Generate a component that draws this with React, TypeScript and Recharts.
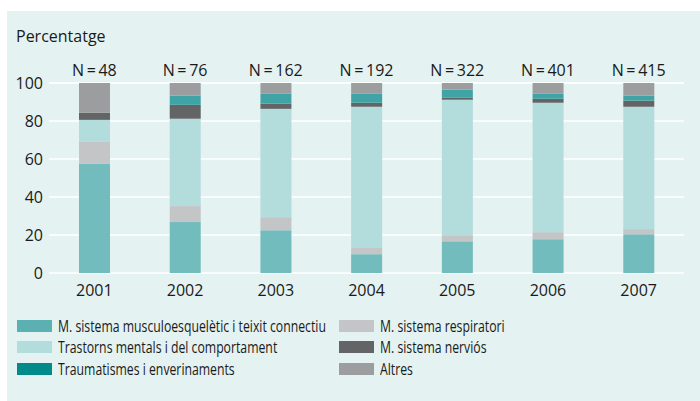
import { BarChart, Bar, XAxis, YAxis, CartesianGrid } from "recharts";

const YEARS = ["2001", "2002", "2003", "2004", "2005", "2006", "2007"];
const N_VALUES = [48, 76, 162, 192, 322, 401, 415];
const MUSCULO = [57.4, 26.8, 22.5, 9.9, 16.7, 17.8, 20.4];
const RESPIRATORI = [11.6, 8.4, 6.9, 3.3, 3.2, 3.7, 2.7];
const TRASTORNS = [11.6, 46.0, 57.0, 74.3, 71.3, 68.1, 64.4];
const NERVIOS = [3.7, 7.3, 2.7, 2.1, 1.0, 2.1, 3.2];
const TRAUMATISMES = [0, 4.8, 5.2, 4.7, 4.3, 2.6, 2.6];
const ALTRES = [15.7, 6.7, 5.7, 5.7, 3.5, 5.7, 6.7];
const Y_TICKS = [0, 20, 40, 60, 80, 100];

const FONT = "'Open Sans', sans-serif";
const TEXT = "#1a1a1a";

// stacking order, bottom to top
const SERIES = [
  { key: "musculo", name: "M. sistema musculoesquelètic i teixit connectiu", values: MUSCULO, fill: "#72bcbd", swatch: "#5bb0b2" },
  { key: "respiratori", name: "M. sistema respiratori", values: RESPIRATORI, fill: "#c4c5c7", swatch: "#c4c5c7" },
  { key: "trastorns", name: "Trastorns mentals i del comportament", values: TRASTORNS, fill: "#b3dcdc", swatch: "#b3dcdc" },
  { key: "nervios", name: "M. sistema nerviós", values: NERVIOS, fill: "#636466", swatch: "#636466" },
  { key: "traumatismes", name: "Traumatismes i enverinaments", values: TRAUMATISMES, fill: "#40a4a6", swatch: "#008b8a" },
  { key: "altres", name: "Altres", values: ALTRES, fill: "#9c9d9f", swatch: "#9c9d9f" },
];

const data = YEARS.map((year, i) => {
  const row: Record<string, string | number> = { year, n: "N\u2009=\u2009" + N_VALUES[i] };
  SERIES.forEach((s) => (row[s.key] = s.values[i]));
  return row;
});

const LEGEND_LEFT = ["musculo", "trastorns", "traumatismes"];
const LEGEND_RIGHT = ["respiratori", "nervios", "altres"];

function LegendColumn({ keys, left }: { keys: string[]; left: number }) {
  return (
    <div style={{ position: "absolute", left, top: 315 }}>
      {keys.map((k) => {
        const s = SERIES.find((x) => x.key === k)!;
        return (
          <div key={k} style={{ display: "flex", alignItems: "center", height: 21.5 }}>
            <span style={{ width: 35, height: 12, background: s.swatch, marginRight: 6, flex: "none" }} />
            {/* the legend face is a condensed cut */}
            <span style={{ fontSize: 15.5, color: TEXT, whiteSpace: "nowrap", display: "inline-block", transform: "scaleX(0.79)", transformOrigin: "left center" }}>
              {s.name}
            </span>
          </div>
        );
      })}
    </div>
  );
}

export default function App() {
  return (
    <div style={{ position: "absolute", left: 0, top: 0, width: 700, height: 401, background: "#fff", fontFamily: FONT }}>
      <div style={{ position: "absolute", left: 7, top: 11, width: 693, height: 390, background: "#e4f2f1" }} />
      <div style={{ position: "absolute", left: 16, top: 25, fontSize: 16, color: TEXT }}>Percentatge</div>
      <div style={{ position: "absolute", left: 0, top: 0 }}>
        <BarChart width={700} height={401} data={data} margin={{ top: 53, right: 16, bottom: 98, left: 0 }}>
          <CartesianGrid vertical={false} stroke="#ffffff" strokeWidth={1.5} />
          <XAxis
            xAxisId="bottom"
            dataKey="year"
            axisLine={false}
            tickLine={false}
            height={30}
            tick={{ fill: TEXT, fontSize: 16, fontFamily: FONT }}
            tickMargin={6}
          />
          <XAxis
            xAxisId="top"
            dataKey="n"
            orientation="top"
            axisLine={false}
            tickLine={false}
            height={30}
            tick={{ fill: TEXT, fontSize: 16, fontFamily: FONT }}
            tickMargin={1}
          />
          <YAxis
            domain={[0, 100]}
            ticks={Y_TICKS}
            width={49}
            axisLine={false}
            tickLine={false}
            tickMargin={0}
            tickSize={6}
            tick={{ fill: TEXT, fontSize: 16, fontFamily: FONT }}
          />
          {SERIES.map((s) => (
            <Bar key={s.key} xAxisId="bottom" dataKey={s.key} stackId="a" fill={s.fill} barSize={31} isAnimationActive={false} />
          ))}
        </BarChart>
      </div>
      <LegendColumn keys={LEGEND_LEFT} left={17} />
      <LegendColumn keys={LEGEND_RIGHT} left={339} />
    </div>
  );
}
